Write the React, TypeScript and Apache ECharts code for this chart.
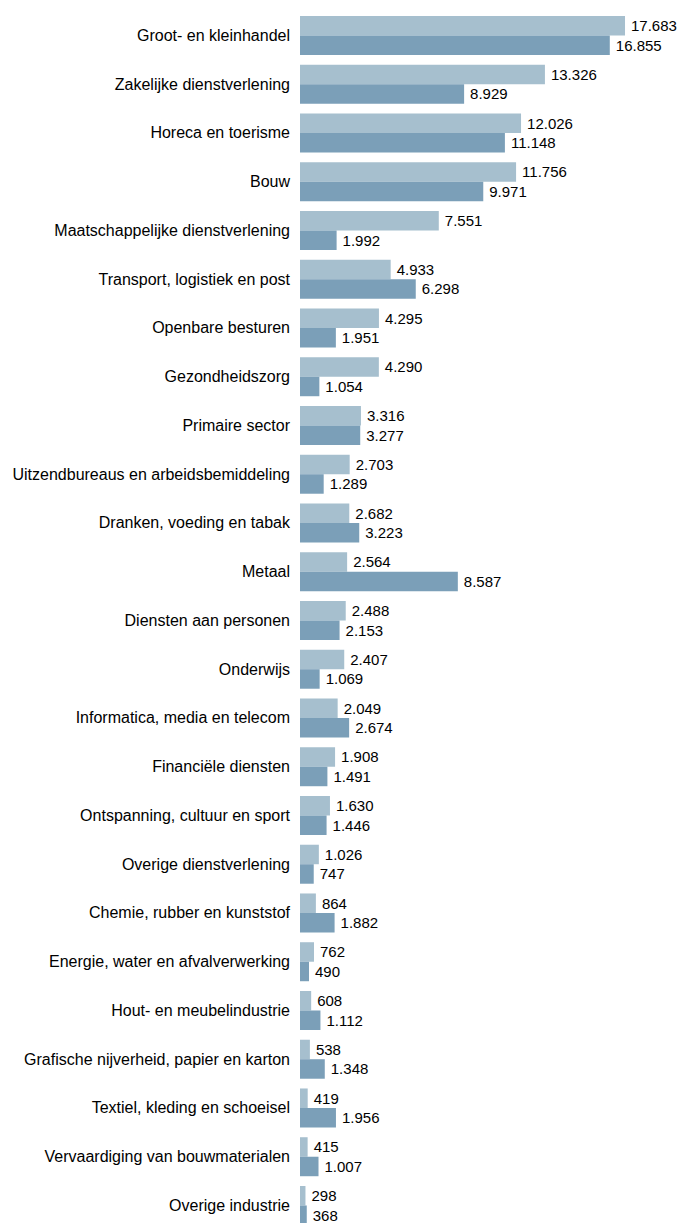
import React, { useEffect, useRef } from "react";
import * as echarts from "echarts";

const categories = [
  "Groot- en kleinhandel",
  "Zakelijke dienstverlening",
  "Horeca en toerisme",
  "Bouw",
  "Maatschappelijke dienstverlening",
  "Transport, logistiek en post",
  "Openbare besturen",
  "Gezondheidszorg",
  "Primaire sector",
  "Uitzendbureaus en arbeidsbemiddeling",
  "Dranken, voeding en tabak",
  "Metaal",
  "Diensten aan personen",
  "Onderwijs",
  "Informatica, media en telecom",
  "Financiële diensten",
  "Ontspanning, cultuur en sport",
  "Overige dienstverlening",
  "Chemie, rubber en kunststof",
  "Energie, water en afvalverwerking",
  "Hout- en meubelindustrie",
  "Grafische nijverheid, papier en karton",
  "Textiel, kleding en schoeisel",
  "Vervaardiging van bouwmaterialen",
  "Overige industrie",
];

const seriesA = [
  17683, 13326, 12026, 11756, 7551, 4933, 4295, 4290, 3316, 2703, 2682, 2564,
  2488, 2407, 2049, 1908, 1630, 1026, 864, 762, 608, 538, 419, 415, 298,
];

const seriesB = [
  16855, 8929, 11148, 9971, 1992, 6298, 1951, 1054, 3277, 1289, 3223, 8587,
  2153, 1069, 2674, 1491, 1446, 747, 1882, 490, 1112, 1348, 1956, 1007, 368,
];

const fmtDot = (v: number) =>
  String(v).replace(/\B(?=(\d{3})+(?!\d))/g, ".");

export default function App() {
  const ref = useRef<HTMLDivElement>(null);
  useEffect(() => {
    document.body.style.margin = "0";
    const chart = echarts.init(ref.current!, null, { renderer: "svg" });
    const labelStyle = {
      show: true,
      position: "right" as const,
      distance: 6,
      color: "#000",
      fontSize: 15,
      fontFamily: "Liberation Sans, Arial, sans-serif",
      formatter: (p: any) => fmtDot(p.value),
    };
    chart.setOption({
      animation: false,
      grid: { left: 300, right: 15.4, top: 11.1, height: 1218.75, containLabel: false },
      xAxis: {
        type: "value",
        min: 0,
        max: 20000,
        show: false,
      },
      yAxis: {
        type: "category",
        data: categories,
        inverse: true,
        axisLine: { show: false },
        axisTick: { show: false },
        splitLine: { show: false },
        axisLabel: {
          margin: 10,
          color: "#000",
          fontSize: 16,
          fontFamily: "Liberation Sans, Arial, sans-serif",
        },
      },
      series: [
        {
          name: "A",
          type: "bar",
          data: seriesA,
          barGap: "0%",
          barCategoryGap: "20%",
          itemStyle: { color: "#a6bfce" },
          label: labelStyle,
        },
        {
          name: "B",
          type: "bar",
          data: seriesB,
          barGap: "0%",
          barCategoryGap: "20%",
          itemStyle: { color: "#7b9fb8" },
          label: labelStyle,
        },
      ],
    });
    return () => chart.dispose();
  }, []);
  return <div ref={ref} style={{ width: 683, height: 1240 }} />;
}
